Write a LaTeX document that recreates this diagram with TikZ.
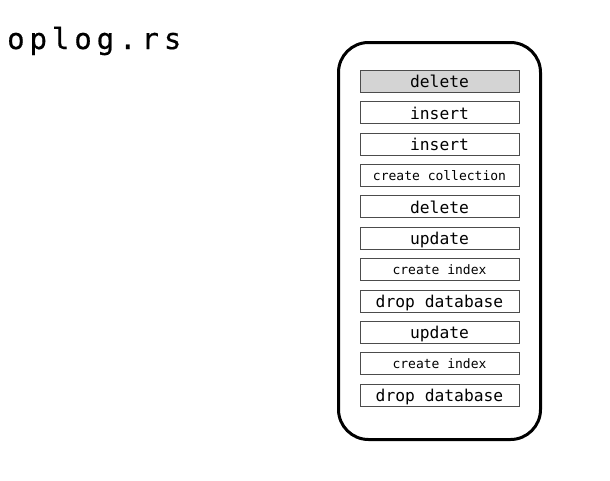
\documentclass[tikz,border=0pt]{standalone}
\usepackage{fontspec}
\setmonofont{DejaVu Sans Mono}
\newfontfamily\titlefont[LetterSpace=17,FakeBold=0.6]{DejaVu Sans Mono}

\begin{document}
\begin{tikzpicture}[x=1pt,y=-1pt,
    oprow/.style={draw=black!70, line width=0.9pt, minimum width=159pt, minimum height=22pt,
      inner sep=0pt, text depth=0pt},
    bigop/.style={oprow, font=\fontsize{16.3}{17}\selectfont\ttfamily, text height=12.4pt},
    smallop/.style={oprow, font=\fontsize{13}{14}\selectfont\ttfamily, text height=9.9pt},
    topop/.style={bigop, fill=black!17}]
      \useasboundingbox (0,0) rectangle (610,480);

      \node[anchor=base west, inner sep=0pt, font=\fontsize{29}{31}\selectfont\titlefont] (title) at (7,49) {oplog.rs};

      \node[draw, line width=3pt, rounded corners=30pt, minimum width=202pt, minimum height=397pt] (oplog) at (439.5,241) {};

      \foreach \txt/\kind [count=\i] in {delete/topop, insert/bigop, insert/bigop,
          create collection/smallop, delete/bigop, update/bigop, create index/smallop,
          drop database/bigop, update/bigop, create index/smallop, drop database/bigop}
        \node[\kind] (op\i) at (439.5, 81.5+31.35*\i-31.35) {\txt};
    \end{tikzpicture}
\end{document}
